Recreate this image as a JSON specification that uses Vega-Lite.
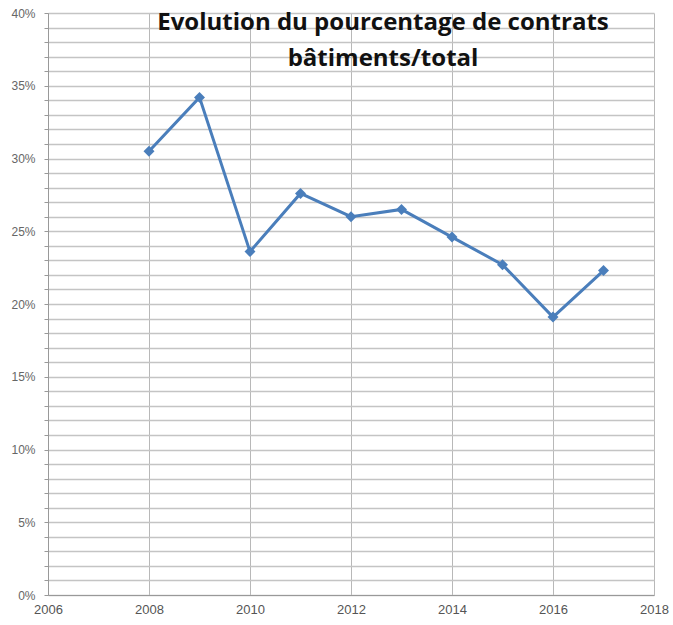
{
  "$schema": "https://vega.github.io/schema/vega-lite/v6.json",
  "autosize": "none",
  "padding": {"left": 48, "top": 13, "right": 19, "bottom": 30},
  "width": 606,
  "height": 582,
  "background": "white",
  "title": {
    "text": ["Evolution du pourcentage de contrats", "bâtiments/total"],
    "font": "Open Sans",
    "fontSize": 24,
    "fontWeight": "bold",
    "color": "#111111",
    "anchor": "middle",
    "frame": "group",
    "orient": "top",
    "baseline": "top",
    "offset": -64,
    "lineHeight": 36,
    "dx": 32
  },
  "data": {
    "values": [
      {"year": 2008, "pct": 0.305},
      {"year": 2009, "pct": 0.342},
      {"year": 2010, "pct": 0.236},
      {"year": 2011, "pct": 0.276},
      {"year": 2012, "pct": 0.260},
      {"year": 2013, "pct": 0.265},
      {"year": 2014, "pct": 0.246},
      {"year": 2015, "pct": 0.227},
      {"year": 2016, "pct": 0.191},
      {"year": 2017, "pct": 0.223}
    ]
  },
  "mark": {
    "type": "line",
    "color": "#4a7ebb",
    "strokeWidth": 3,
    "point": {"shape": "diamond", "filled": true, "size": 120, "color": "#4a7ebb"}
  },
  "encoding": {
    "x": {
      "field": "year",
      "type": "quantitative",
      "scale": {"domain": [2006, 2018], "nice": false, "zero": false},
      "axis": {
        "title": null,
        "values": [2006, 2008, 2010, 2012, 2014, 2016, 2018],
        "format": "d",
        "grid": true,
        "gridColor": "#b8b8b8",
        "gridWidth": 1,
        "domainColor": "#999999",
        "ticks": false,
        "labelFlush": false,
        "labelFont": "Liberation Sans",
        "labelFontSize": 13,
        "labelColor": "#555555",
        "labelPadding": 8
      }
    },
    "y": {
      "field": "pct",
      "type": "quantitative",
      "scale": {"domain": [0, 0.4], "nice": false},
      "axis": {
        "title": null,
        "values": [0,0.01,0.02,0.03,0.04,0.05,0.06,0.07,0.08,0.09,0.10,0.11,0.12,0.13,0.14,0.15,0.16,0.17,0.18,0.19,0.20,0.21,0.22,0.23,0.24,0.25,0.26,0.27,0.28,0.29,0.30,0.31,0.32,0.33,0.34,0.35,0.36,0.37,0.38,0.39,0.40],
        "labelExpr": "round(datum.value*100) % 5 == 0 ? format(datum.value, '.0%') : ''",
        "labelFlush": false,
        "grid": true,
        "gridColor": "#c4c4c4",
        "gridWidth": 1.5,
        "domainColor": "#999999",
        "tickColor": "#999999",
        "tickSize": 4,
        "labelFont": "Liberation Sans",
        "labelFontSize": 12,
        "labelColor": "#666666",
        "labelPadding": 9
      }
    }
  },
  "config": {"view": {"stroke": null}}
}
